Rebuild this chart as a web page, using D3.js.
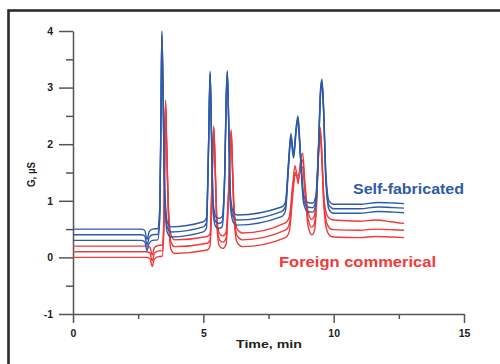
<!DOCTYPE html>
<html>
<head>
<meta charset="utf-8">
<script src="https://cdn.jsdelivr.net/npm/d3@7"></script>
<style>
  body { margin: 0; background: #fff; }
  svg { display: block; font-family: "Liberation Sans", Arial, sans-serif; }
</style>
</head>
<body>
<div id="chart"></div>
<script>
// Time axis of the self-fabricated runs (min).
const blueTime = [0, 2.6, 2.75, 2.84, 2.92, 3.05, 3.25, 3.33, 3.38, 3.41, 3.45, 3.52, 3.62, 3.75,
  5.0, 5.12, 5.2, 5.26, 5.31, 5.38, 5.48, 5.6, 5.72, 5.82, 5.88, 5.92, 5.97, 6.04, 6.15, 6.3,
  8.0, 8.15, 8.27, 8.36, 8.46, 8.56, 8.63, 8.72, 8.85, 9.0, 9.2, 9.32, 9.42, 9.5, 9.55, 9.61,
  9.7, 9.82, 10.0, 11.0, 11.7, 12.3, 12.7];

// Conductivity of the three self-fabricated runs (uS).
const blue1 = [0.50, 0.50, 0.48, 0.32, 0.45, 0.50, 0.51, 0.90, 2.80, 4.00, 3.10, 1.20, 0.62, 0.54,
  0.63, 0.70, 2.00, 3.29, 2.30, 0.95, 0.72, 0.69, 0.72, 1.50, 2.90, 3.30, 2.50, 1.10, 0.80, 0.75,
  0.89, 0.98, 1.70, 2.19, 1.83, 2.30, 2.50, 1.90, 1.10, 0.97, 0.96, 1.10, 2.00, 3.00, 3.15, 2.70,
  1.50, 1.00, 0.94, 0.94, 0.97, 0.96, 0.95];
const blue2 = [0.40, 0.40, 0.38, 0.22, 0.35, 0.40, 0.41, 0.80, 2.75, 3.95, 3.05, 1.10, 0.53, 0.45,
  0.54, 0.61, 1.95, 3.26, 2.25, 0.86, 0.63, 0.60, 0.63, 1.45, 2.85, 3.27, 2.45, 1.00, 0.71, 0.66,
  0.81, 0.90, 1.65, 2.15, 1.79, 2.26, 2.46, 1.85, 1.02, 0.89, 0.88, 1.02, 1.95, 2.95, 3.11, 2.65,
  1.42, 0.92, 0.86, 0.86, 0.89, 0.88, 0.87];
const blue3 = [0.30, 0.30, 0.28, 0.12, 0.25, 0.30, 0.31, 0.70, 2.70, 3.90, 3.00, 1.00, 0.44, 0.36,
  0.45, 0.52, 1.90, 3.23, 2.20, 0.77, 0.54, 0.51, 0.54, 1.40, 2.80, 3.24, 2.40, 0.90, 0.62, 0.57,
  0.72, 0.82, 1.60, 2.11, 1.75, 2.22, 2.42, 1.80, 0.95, 0.81, 0.80, 0.94, 1.90, 2.90, 3.07, 2.60,
  1.35, 0.85, 0.78, 0.78, 0.81, 0.80, 0.79];

// Time axis of the foreign commercial runs (min).
const redTime = [0, 2.8, 2.95, 3.04, 3.12, 3.25, 3.42, 3.49, 3.52, 3.55, 3.59, 3.66, 3.76, 3.9,
  5.15, 5.26, 5.34, 5.40, 5.45, 5.52, 5.62, 5.75, 5.87, 5.97, 6.03, 6.07, 6.12, 6.19, 6.3, 6.5,
  8.15, 8.3, 8.43, 8.52, 8.64, 8.73, 8.81, 8.9, 9.02, 9.16, 9.25, 9.33, 9.42, 9.48, 9.54, 9.62,
  9.74, 9.9, 10.0, 11.0, 11.6, 12.2, 12.7];

// Conductivity of the three foreign commercial runs (uS).
const red1 = [0.20, 0.20, 0.18, 0.04, 0.17, 0.21, 0.22, 0.70, 1.90, 2.78, 2.10, 0.90, 0.40, 0.31,
  0.37, 0.42, 1.50, 2.32, 1.70, 0.70, 0.42, 0.38, 0.45, 1.20, 2.00, 2.25, 1.60, 0.80, 0.50, 0.43,
  0.61, 0.72, 1.30, 1.62, 1.30, 1.70, 1.84, 1.30, 0.80, 0.67, 0.72, 1.00, 1.90, 2.30, 1.90, 1.10,
  0.75, 0.67, 0.66, 0.64, 0.66, 0.63, 0.60];
const red2 = [0.10, 0.10, 0.08, -0.06, 0.07, 0.11, 0.12, 0.62, 1.85, 2.74, 2.05, 0.82, 0.27, 0.19,
  0.25, 0.31, 1.45, 2.29, 1.65, 0.62, 0.31, 0.27, 0.34, 1.15, 1.96, 2.22, 1.55, 0.70, 0.38, 0.31,
  0.48, 0.59, 1.20, 1.50, 1.38, 1.62, 1.72, 1.22, 0.68, 0.53, 0.58, 0.90, 1.85, 2.27, 1.85, 1.02,
  0.60, 0.50, 0.49, 0.48, 0.50, 0.49, 0.48];
const red3 = [0.00, 0.00, -0.02, -0.16, -0.03, 0.01, 0.02, 0.55, 1.80, 2.70, 2.00, 0.75, 0.14, 0.07,
  0.13, 0.20, 1.40, 2.26, 1.60, 0.55, 0.20, 0.16, 0.23, 1.10, 1.92, 2.19, 1.50, 0.60, 0.26, 0.19,
  0.35, 0.46, 1.10, 1.45, 1.45, 1.55, 1.60, 1.15, 0.55, 0.40, 0.45, 0.80, 1.80, 2.24, 1.80, 0.95,
  0.48, 0.37, 0.36, 0.35, 0.37, 0.36, 0.35];

const xTicks = [0, 5, 10, 15];
const xMinorTicks = [2.5, 7.5, 12.5];
const yTicks = [-1, 0, 1, 2, 3, 4];
const yMinorTicks = [-0.5, 0.5, 1.5, 2.5, 3.5];

const blueColor = "#2f5aaa";
const redColor = "#ef3b3b";

// Set the dimensions and margins of the graph.
const margin = { top: 31, right: 36, bottom: 50, left: 73 },
  width = 500 - margin.left - margin.right,
  height = 364 - margin.top - margin.bottom;

const root = d3.select("#chart")
  .append("svg")
  .attr("width", 500)
  .attr("height", 364);

// Outer frame (runs off the right and bottom of the picture).
root.append("rect")
  .attr("x", 8.5)
  .attr("y", 10.5)
  .attr("width", 600)
  .attr("height", 400)
  .attr("fill", "none")
  .attr("stroke", "#2b2b2b")
  .attr("stroke-width", 2.6);

const svg = root.append("g")
  .attr("transform", `translate(${margin.left}, ${margin.top})`);

const x = d3.scaleLinear().domain([0, 15]).range([0, width]);
const y = d3.scaleLinear().domain([-1, 4]).range([height, 0]);

/**
 * Axes.
 */

const styleAxis = g => {
  g.selectAll(".domain, line").attr("stroke", "#555").attr("stroke-width", 1.5);
  g.selectAll("text")
    .attr("fill", "#222")
    .style("font-size", "10.5px")
    .style("font-weight", "bold");
};

svg.append("g")
  .attr("transform", `translate(0, ${height})`)
  .call(d3.axisBottom(x).tickValues(xTicks).tickSize(9).tickSizeOuter(0)
    .tickPadding(7).tickFormat(d => String(d)))
  .call(styleAxis);
svg.append("g")
  .attr("transform", `translate(0, ${height})`)
  .call(d3.axisBottom(x).tickValues(xMinorTicks).tickSize(5).tickFormat(""))
  .call(g => g.select(".domain").remove())
  .call(styleAxis);

svg.append("g")
  .call(d3.axisLeft(y).tickValues(yTicks).tickSize(14).tickSizeOuter(0)
    .tickPadding(6).tickFormat(d => String(d)))
  .call(styleAxis);
svg.append("g")
  .call(d3.axisLeft(y).tickValues(yMinorTicks).tickSize(7).tickFormat(""))
  .call(g => g.select(".domain").remove())
  .call(styleAxis);

/**
 * Traces.
 */

const line = d3.line()
  .x(d => x(d[0]))
  .y(d => y(d[1]))
  .curve(d3.curveMonotoneX);

const traces = [
  { time: redTime, values: red3, color: redColor },
  { time: redTime, values: red2, color: redColor },
  { time: redTime, values: red1, color: redColor },
  { time: blueTime, values: blue3, color: blueColor },
  { time: blueTime, values: blue2, color: blueColor },
  { time: blueTime, values: blue1, color: blueColor },
];

svg.selectAll("path.trace")
  .data(traces)
  .join("path")
  .attr("class", "trace")
  .attr("fill", "none")
  .attr("stroke", d => d.color)
  .attr("stroke-width", 1.4)
  .attr("stroke-linejoin", "round")
  .attr("d", d => line(d.time.map((t, i) => [t, d.values[i]])));

/**
 * Labels.
 */

root.append("text")
  .attr("x", 236)
  .attr("y", 348)
  .attr("textLength", 66)
  .attr("lengthAdjust", "spacingAndGlyphs")
  .style("font-size", "11px")
  .style("font-weight", "bold")
  .attr("fill", "#222")
  .text("Time, min");

root.append("text")
  .attr("transform", "translate(35, 187) rotate(-90)")
  .attr("textLength", 25)
  .attr("lengthAdjust", "spacingAndGlyphs")
  .style("font-size", "10.5px")
  .style("font-weight", "bold")
  .attr("fill", "#222")
  .text("G, µS");

root.append("text")
  .attr("x", 353)
  .attr("y", 194)
  .attr("textLength", 111)
  .attr("lengthAdjust", "spacingAndGlyphs")
  .style("font-size", "14px")
  .style("font-weight", "bold")
  .attr("fill", blueColor)
  .text("Self-fabricated");

root.append("text")
  .attr("x", 279)
  .attr("y", 266.5)
  .attr("textLength", 157)
  .attr("lengthAdjust", "spacingAndGlyphs")
  .style("font-size", "14px")
  .style("font-weight", "bold")
  .attr("fill", redColor)
  .text("Foreign commerical");
</script>
</body>
</html>
